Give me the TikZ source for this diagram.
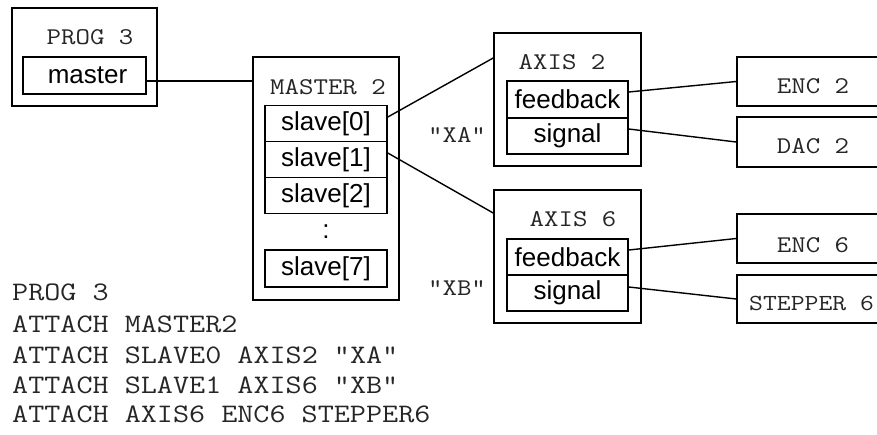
\documentclass[tikz,border=0pt]{standalone}
\usepackage{fontspec}
\setmainfont{Liberation Sans}
\newfontfamily\monof[FakeStretch=1.17]{Latin Modern Mono}
\begin{document}
\begin{tikzpicture}[x=1pt,y=-1pt,
  box/.style={draw, line width=1.6pt, inner sep=0pt, minimum width=#1},
  slot/.style={draw, line width=1.6pt, inner sep=0pt, font=\fontsize{26}{26}\selectfont, minimum width=#1},
  ttl/.style={inner sep=0pt, font=\monof\fontsize{24}{24}\selectfont, text=black!85},
  code/.style={inner sep=0pt, anchor=west, font=\monof\fontsize{26.7}{26.7}\selectfont, text=black!85},
  wire/.style={line width=1.4pt}]
\clip (0,0) rectangle (877,434);
\useasboundingbox (0,0) rectangle (877,434);
% PROG 3
\node[box=145pt, minimum height=98pt] (P) at (84.5,57) {};
\node[ttl] (Pt) at (90,37) {PROG 3};
\node[slot=123pt, minimum height=37pt] (master) at (84.5,75.5) {\hspace{6pt}master};
% MASTER 2
\node[box=146pt, minimum height=243pt] (M) at (326,178.5) {};
\node[ttl] (Mt) at (328,87) {MASTER 2};
\node[slot=122pt, minimum height=36pt] (s0) at (326,123.5) {slave[0]};
\node[slot=122pt, minimum height=36pt] (s1) at (326,159.5) {slave[1]};
\node[slot=122pt, minimum height=36pt] (s2) at (326,195.5) {slave[2]};
\node[inner sep=0pt, font=\fontsize{26}{26}\selectfont] (dots) at (326,232) {:};
\node[slot=122pt, minimum height=37pt] (s7) at (326,268.5) {slave[7]};
% AXIS 2
\node[box=147pt, minimum height=133pt] (A2) at (567.5,99.5) {};
\node[ttl] (A2t) at (562,62) {AXIS 2};
\node[slot=121pt, minimum height=37pt] (fb2) at (567.5,99.5) {feedback};
\node[slot=121pt, minimum height=36pt] (sig2) at (567.5,136) {signal};
% AXIS 6
\node[box=147pt, minimum height=133pt] (A6) at (567.5,256.5) {};
\node[ttl] (A6t) at (573,219) {AXIS 6};
\node[slot=121pt, minimum height=36pt] (fb6) at (567.5,257) {feedback};
\node[slot=121pt, minimum height=36pt] (sig6) at (567.5,293) {signal};
% right boxes
\node[box=163pt, minimum height=49pt] (E2) at (818.5,81.5) {};
\node[ttl] (E2t) at (813,86) {ENC 2};
\node[box=163pt, minimum height=50pt] (D2) at (818.5,142) {};
\node[ttl] (D2t) at (813,146) {DAC 2};
\node[box=163pt, minimum height=49pt] (E6) at (818.5,238.5) {};
\node[ttl] (E6t) at (813,245) {ENC 6};
\node[box=163pt, minimum height=48pt] (S6) at (818.5,299) {};
\node[ttl, anchor=west, font=\monof\fontsize{23}{23}\selectfont] (S6t) at (749,303) {STEPPER 6};
% labels
\node[ttl] (XA) at (457,135) {"XA"};
\node[ttl] (XB) at (457,288) {"XB"};
% connectors
\draw[wire] ([yshift=-5.5pt]master.east) -- ([yshift=-5.5pt]master.east -| M.west);
\draw[wire] ([yshift=6.5pt]s0.east) -- ([yshift=41.5pt]A2.west);
\draw[wire] ([yshift=6.5pt]s1.east) -- ([yshift=43.5pt]A6.west);
\draw[wire] ([yshift=7.5pt]fb2.east) -- (E2.west);
\draw[wire] ([yshift=7pt]sig2.east) -- (D2.west);
\draw[wire] ([yshift=7pt]fb6.east) -- (E6.west);
\draw[wire] ([yshift=6pt]sig6.east) -- (S6.west);
% code
\node[code] (c1) at (12,292) {PROG 3};
\node[code] (c2) at (12,324) {ATTACH MASTER2};
\node[code] (c3) at (12,355) {ATTACH SLAVE0 AXIS2 "XA"};
\node[code] (c4) at (12,385) {ATTACH SLAVE1 AXIS6 "XB"};
\node[code] (c5) at (12,414) {ATTACH AXIS6 ENC6 STEPPER6};
\end{tikzpicture}
\end{document}
